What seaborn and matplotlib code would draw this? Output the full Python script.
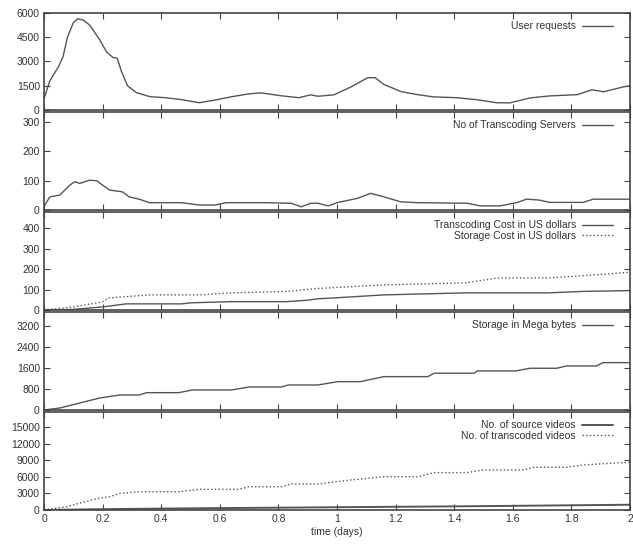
import numpy as np
import pandas as pd
import matplotlib
matplotlib.use("Agg")
import matplotlib.pyplot as plt
import seaborn as sns
from matplotlib.ticker import FormatStrFormatter

# ---------------- data ----------------
req_t = [0.00, 0.02, 0.05, 0.065, 0.08, 0.10, 0.115, 0.135, 0.156, 0.19, 0.213, 0.235, 0.25, 0.264,
         0.285, 0.315, 0.36, 0.42, 0.47, 0.53, 0.585, 0.64, 0.70, 0.74, 0.81, 0.87, 0.91, 0.935, 0.99,
         1.05, 1.105, 1.13, 1.16, 1.22, 1.275, 1.33, 1.41, 1.48, 1.545, 1.59, 1.66, 1.725, 1.82, 1.87,
         1.91, 1.98, 2.0]
req_v = [700, 1800, 2700, 3300, 4500, 5400, 5650, 5550, 5250, 4350, 3600, 3250, 3200, 2400,
         1500, 1080, 830, 750, 640, 450, 620, 820, 1000, 1060, 880, 760, 940, 850, 940,
         1450, 2000, 2000, 1580, 1130, 950, 810, 760, 630, 450, 440, 750, 870, 950, 1250,
         1130, 1440, 1500]

srv_t = [0.003, 0.02, 0.054, 0.088, 0.105, 0.122, 0.156, 0.18, 0.2, 0.224, 0.268, 0.29, 0.325, 0.36,
         0.47, 0.53, 0.585, 0.62, 0.756, 0.844, 0.878, 0.91, 0.935, 0.97, 1.0, 1.07, 1.115, 1.16,
         1.217, 1.275, 1.444, 1.49, 1.556, 1.613, 1.647, 1.69, 1.725, 1.84, 1.875, 1.953, 2.0]
srv_v = [17, 45, 51, 85, 97, 91, 102, 100, 85, 68, 62, 45, 37, 25,
         25, 17, 17, 25, 25, 23, 11, 23, 23, 14, 25, 40, 57, 45,
         28, 25, 23, 14, 14, 25, 37, 34, 26, 26, 37, 37, 37]

tcost_t = [0.0, 0.1, 0.2, 0.28, 0.47, 0.5, 0.64, 0.83, 0.9, 0.935, 1.0, 1.16, 1.44, 1.72, 1.84, 2.0]
tcost_v = [0, 3, 15, 30, 30, 35, 41, 41, 48, 55, 60, 74, 84, 84, 91, 95]

scost_t = [0.0, 0.1, 0.2, 0.22, 0.36, 0.53, 0.64, 0.83, 0.93, 1.16, 1.44, 1.55, 1.72, 1.89, 2.0]
scost_v = [0, 15, 40, 59, 74, 74, 84, 91, 105, 123, 133, 157, 157, 173, 185]

stor_t = [0.0, 0.054, 0.122, 0.19, 0.258, 0.325, 0.35, 0.46, 0.505, 0.64, 0.70, 0.81, 0.834, 0.935,
          1.003, 1.08, 1.16, 1.31, 1.332, 1.468, 1.478, 1.61, 1.658, 1.75, 1.783, 1.885, 1.908, 2.0]
stor_v = [0, 76, 267, 457, 571, 571, 660, 660, 762, 762, 876, 876, 952, 952,
          1080, 1080, 1270, 1270, 1400, 1400, 1486, 1486, 1588, 1588, 1676, 1676, 1803, 1803]

src_t = [0.0, 0.2, 0.5, 1.0, 1.5, 2.0]
src_v = [0, 150, 300, 500, 700, 950]

trv_t = [0.0, 0.078, 0.122, 0.19, 0.224, 0.258, 0.325, 0.46, 0.53, 0.664, 0.70, 0.81, 0.844, 0.935,
         1.047, 1.163, 1.275, 1.332, 1.444, 1.5, 1.637, 1.671, 1.783, 1.84, 1.929, 2.0]
trv_v = [0, 600, 1260, 2160, 2400, 3000, 3300, 3300, 3730, 3730, 4210, 4210, 4700, 4700,
         5420, 6020, 6020, 6750, 6750, 7230, 7230, 7710, 7710, 8130, 8430, 8600]

x_ticks = [0, 0.2, 0.4, 0.6, 0.8, 1.0, 1.2, 1.4, 1.6, 1.8, 2.0]
y_ticks = [[0, 1500, 3000, 4500, 6000],
           [0, 100, 200, 300],
           [0, 100, 200, 300, 400],
           [0, 800, 1600, 2400, 3200],
           [0, 3000, 6000, 9000, 12000, 15000]]
y_lims = [(0, 6000), (0, 335), (0, 480), (0, 3730), (0, 17700)]

# ---------------- style ----------------
sns.set_style("ticks")
plt.rcParams['font.family'] = ['Liberation Sans', 'DejaVu Sans']

fig = plt.figure(figsize=(6.33, 5.54), dpi=100)
L = 44 / 633
W = (630 - 44) / 633
tops = [13, 112, 212, 312, 412]
bots = [110, 210, 310, 410, 510]
axes = []
for tp, bt in zip(tops, bots):
    ax = fig.add_axes([L, 1 - bt / 554, W, (bt - tp) / 554])
    axes.append(ax)

lc = '#555555'
sns.lineplot(x=req_t, y=req_v, ax=axes[0], color=lc, lw=1.0, label='User requests')
sns.lineplot(x=srv_t, y=srv_v, ax=axes[1], color=lc, lw=1.0, label='No of Transcoding Servers')
sns.lineplot(x=tcost_t, y=tcost_v, ax=axes[2], color=lc, lw=1.0, label='Transcoding Cost in US dollars')
sns.lineplot(x=scost_t, y=scost_v, ax=axes[2], color=lc, lw=1.0, linestyle=':', label='Storage Cost in US dollars')
sns.lineplot(x=stor_t, y=stor_v, ax=axes[3], color=lc, lw=1.0, label='Storage in Mega bytes')
sns.lineplot(x=src_t, y=src_v, ax=axes[4], color=lc, lw=1.4, label='No. of source videos')
sns.lineplot(x=trv_t, y=trv_v, ax=axes[4], color=lc, lw=1.0, linestyle=':', label='No. of transcoded videos')

for i, ax in enumerate(axes):
    ax.set_xlim(0, 2)
    ax.set_ylim(*y_lims[i])
    ax.set_xticks(x_ticks)
    ax.set_yticks(y_ticks[i])
    ax.xaxis.set_major_formatter(FormatStrFormatter('%g'))
    ax.tick_params(direction='in', top=True, right=True, length=4, width=0.8,
                   color='#444444', labelsize=7.5, labelcolor='#333333', pad=3)
    for s in ax.spines.values():
        s.set_linewidth(1.2)
        s.set_color('#444444')
        s.set_visible(True)
    ax.set_ylabel('')
    ax.set_xlabel('')
    if i < 4:
        ax.tick_params(labelbottom=False)
    ax.legend(loc='upper right', bbox_to_anchor=(0.986, 1.0), frameon=False, markerfirst=False,
              fontsize=7.5, handlelength=3.0, handletextpad=0.6, borderaxespad=0.4,
              labelspacing=0.05, labelcolor='#333333')

axes[4].set_xlabel('time (days)', fontsize=7.5, color='#333333', labelpad=2)

fig.savefig('out.png', dpi=100)
